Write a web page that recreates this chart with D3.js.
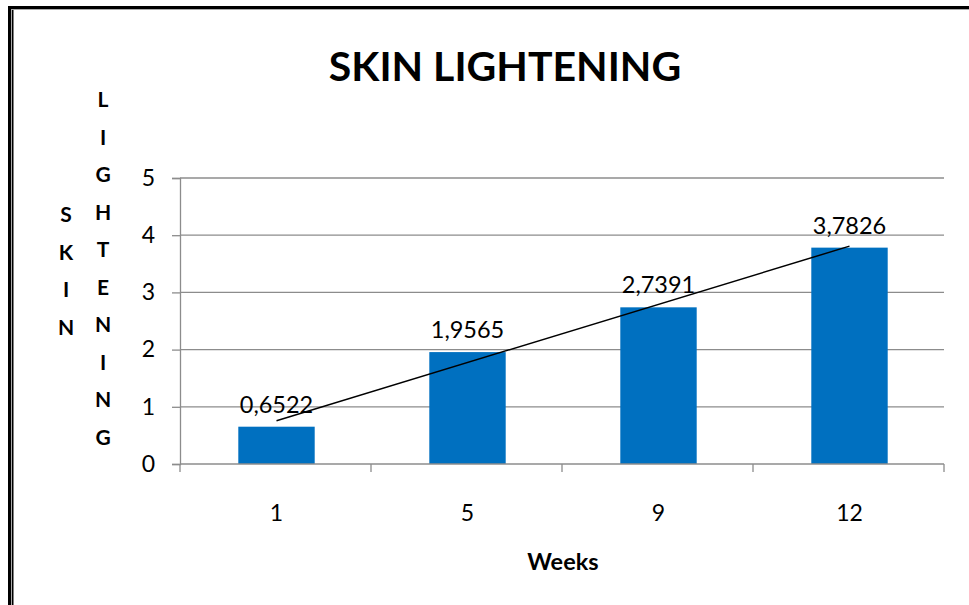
<!DOCTYPE html>
<html>
<head>
<meta charset="utf-8">
<script src="https://cdn.jsdelivr.net/npm/d3@7"></script>
<style>
  body { margin: 0; background: #fff; }
  svg { display: block; font-family: Lato, "Open Sans", sans-serif; }
</style>
</head>
<body>
<svg id="chart" width="969" height="605"></svg>
<script>
let weeks = ["1", "5", "9", "12"]
let values = [0.6522, 1.9565, 2.7391, 3.7826]
let valueLabels = ["0,6522", "1,9565", "2,7391", "3,7826"]
let yTicks = [0, 1, 2, 3, 4, 5]

let width = 969
let height = 605
let margin = { top: 178, right: 25, bottom: 141, left: 180 }
let svg = d3.select("#chart")

// frame (double line on left and top)
svg.append("rect").attr("x", 8).attr("y", 6).attr("width", 3).attr("height", height).style("fill", "#000")
svg.append("rect").attr("x", 11).attr("y", 9).attr("width", 1).attr("height", height).style("fill", "#aaa")
svg.append("rect").attr("x", 12).attr("y", 9).attr("width", 1.5).attr("height", height).style("fill", "#000")
svg.append("rect").attr("x", 8).attr("y", 6).attr("width", width).attr("height", 3).style("fill", "#000")
svg.append("rect").attr("x", 11).attr("y", 9).attr("width", width).attr("height", 1).style("fill", "#aaa")

let x = d3.scaleBand()
    .domain(weeks)
    .range([margin.left, width - margin.right])
    .paddingInner(0.6)
    .paddingOuter(0.3)

let y = d3.scaleLinear()
    .domain([0, 5])
    .range([height - margin.bottom, margin.top])

// gridlines
svg.append("g")
  .selectAll("line")
  .data(yTicks.slice(1))
  .join("line")
  .attr("x1", margin.left)
  .attr("x2", width - margin.right)
  .attr("y1", d => y(d))
  .attr("y2", d => y(d))
  .style("stroke", "#8c8c8c")
  .style("stroke-width", 1.3)

let yAxis = svg.append("g")
  .attr("transform", `translate(${margin.left},0)`)
  .call(d3.axisLeft(y).tickValues(yTicks).tickSize(8).tickPadding(17).tickFormat(d3.format("d")))
yAxis.select(".domain").style("stroke", "#8c8c8c").style("stroke-width", 1.3)
yAxis.selectAll(".tick line").style("stroke", "#8c8c8c").style("stroke-width", 1.3)
yAxis.selectAll("text").style("font-size", "23px").style("fill", "#000").style("font-family", "Lato")

// bars
svg.append("g")
  .selectAll("rect")
  .data(values)
  .join("rect")
  .attr("x", (d, i) => x(weeks[i]) + 1)
  .attr("y", d => y(d))
  .attr("width", x.bandwidth())
  .attr("height", d => y(0) - y(d))
  .style("fill", "#0070c0")

// x axis with ticks at category boundaries
let bounds = d3.range(weeks.length + 1).map(i => margin.left + i * (width - margin.left - margin.right) / weeks.length)
svg.append("line")
  .attr("x1", margin.left).attr("x2", width - margin.right)
  .attr("y1", y(0)).attr("y2", y(0))
  .style("stroke", "#8c8c8c").style("stroke-width", 1.3)
svg.append("g")
  .selectAll("line")
  .data(bounds)
  .join("line")
  .attr("x1", d => d).attr("x2", d => d)
  .attr("y1", y(0)).attr("y2", y(0) + 8)
  .style("stroke", "#8c8c8c").style("stroke-width", 1.3)

svg.append("g")
  .selectAll("text")
  .data(weeks)
  .join("text")
  .attr("x", d => x(d) + x.bandwidth() / 2 + 1)
  .attr("y", 521)
  .attr("text-anchor", "middle")
  .style("font-size", "23px")
  .text(d => d)

// linear trendline
let xs = values.map((d, i) => i + 1)
let mx = d3.mean(xs), my = d3.mean(values)
let slope = d3.sum(xs, (v, i) => (v - mx) * (values[i] - my)) / d3.sum(xs, v => (v - mx) * (v - mx))
let intercept = my - slope * mx
let trend = [1, weeks.length].map(k => ({ px: x(weeks[k - 1]) + x.bandwidth() / 2 + 1, v: intercept + slope * k }))
svg.append("path")
  .attr("d", d3.line().x(d => d.px).y(d => y(d.v))(trend))
  .style("stroke", "#000")
  .style("stroke-width", 1.5)
  .style("fill", "none")

// data labels
svg.append("g")
  .selectAll("text")
  .data(values)
  .join("text")
  .attr("x", (d, i) => x(weeks[i]) + x.bandwidth() / 2 + 1)
  .attr("y", d => y(d) - 14)
  .attr("text-anchor", "middle")
  .style("font-size", "23.5px")
  .text((d, i) => valueLabels[i])

// title
svg.append("text")
  .attr("x", 505)
  .attr("y", 81)
  .attr("text-anchor", "middle")
  .style("font-size", "41px")
  .style("font-weight", "bold")
  .text("SKIN LIGHTENING")

// vertical stacked y axis title
let col1 = "SKIN".split("")
let col2 = "LIGHTENING".split("")
svg.append("g")
  .selectAll("text")
  .data(col1)
  .join("text")
  .attr("x", 66)
  .attr("y", (d, i) => 222 + i * 37.5)
  .attr("text-anchor", "middle")
  .style("font-size", "21px")
  .style("font-weight", "bold")
  .text(d => d)
svg.append("g")
  .selectAll("text")
  .data(col2)
  .join("text")
  .attr("x", 103)
  .attr("y", (d, i) => 107 + i * 37.5)
  .attr("text-anchor", "middle")
  .style("font-size", "21px")
  .style("font-weight", "bold")
  .text(d => d)

// x axis title
svg.append("text")
  .attr("x", 563)
  .attr("y", 570)
  .attr("text-anchor", "middle")
  .style("font-size", "23.5px")
  .style("font-weight", "bold")
  .text("Weeks")
</script>
</body>
</html>
